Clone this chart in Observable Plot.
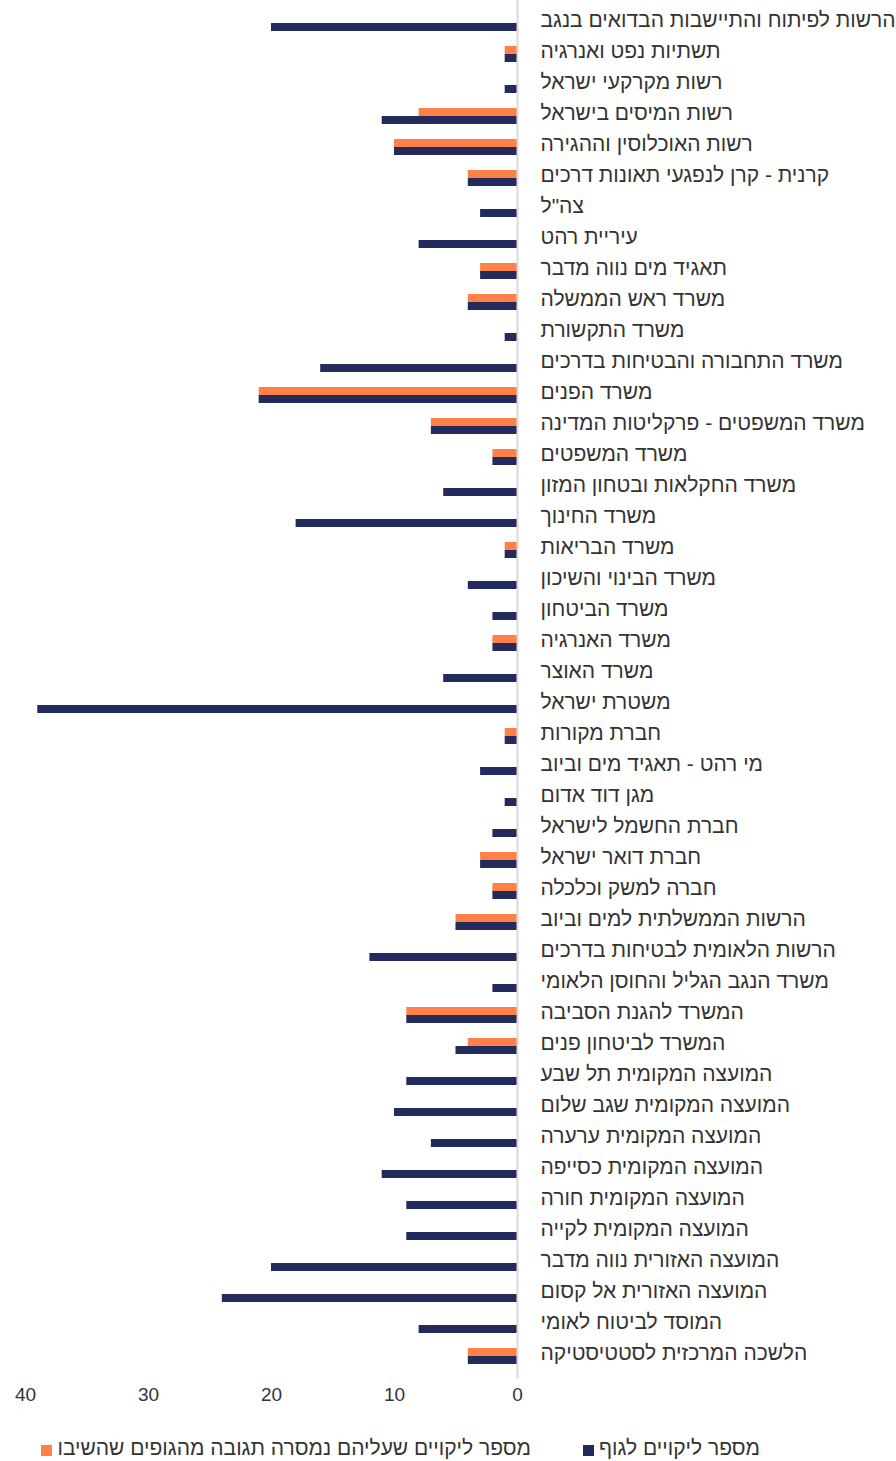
<!DOCTYPE html>
<html lang="he">
<head>
<meta charset="utf-8">
<script src="https://cdn.jsdelivr.net/npm/d3@7"></script>
<script src="https://cdn.jsdelivr.net/npm/@observablehq/plot@0.6"></script>
<style>
  html, body { margin: 0; padding: 0; background: #fff; }
  body { width: 896px; font-family: "Liberation Sans", sans-serif; }
  #chart svg { display: block; }
  .legend { direction: rtl; display: flex; gap: 52px; justify-content: flex-start; padding-right: 136px;
            margin-top: 17px; font-size: 21px; line-height: 22px; color: #333; }
  .legend .item { display: flex; align-items: center; gap: 5px; white-space: nowrap; }
  .legend .sw { width: 11px; height: 11px; display: inline-block; margin-top: 5px; }
</style>
</head>
<body>
<div id="chart"></div>
<div class="legend">
  <div class="item"><span>מספר ליקויים לגוף</span><span class="sw" style="background:#232A5C"></span></div>
  <div class="item"><span>מספר ליקויים שעליהם נמסרה תגובה מהגופים שהשיבו</span><span class="sw" style="background:#FF8149"></span></div>
</div>
<script>
const categories = [
  "הרשות לפיתוח והתיישבות הבדואים בנגב",
  "תשתיות נפט ואנרגיה",
  "רשות מקרקעי ישראל",
  "רשות המיסים בישראל",
  "רשות האוכלוסין וההגירה",
  "קרנית - קרן לנפגעי תאונות דרכים",
  "צה\"ל",
  "עיריית רהט",
  "תאגיד מים נווה מדבר",
  "משרד ראש הממשלה",
  "משרד התקשורת",
  "משרד התחבורה והבטיחות בדרכים",
  "משרד הפנים",
  "משרד המשפטים - פרקליטות המדינה",
  "משרד המשפטים",
  "משרד החקלאות ובטחון המזון",
  "משרד החינוך",
  "משרד הבריאות",
  "משרד הבינוי והשיכון",
  "משרד הביטחון",
  "משרד האנרגיה",
  "משרד האוצר",
  "משטרת ישראל",
  "חברת מקורות",
  "מי רהט - תאגיד מים וביוב",
  "מגן דוד אדום",
  "חברת החשמל לישראל",
  "חברת דואר ישראל",
  "חברה למשק וכלכלה",
  "הרשות הממשלתית למים וביוב",
  "הרשות הלאומית לבטיחות בדרכים",
  "משרד הנגב הגליל והחוסן הלאומי",
  "המשרד להגנת הסביבה",
  "המשרד לביטחון פנים",
  "המועצה המקומית תל שבע",
  "המועצה המקומית שגב שלום",
  "המועצה המקומית ערערה",
  "המועצה המקומית כסייפה",
  "המועצה המקומית חורה",
  "המועצה המקומית לקייה",
  "המועצה האזורית נווה מדבר",
  "המועצה האזורית אל קסום",
  "המוסד לביטוח לאומי",
  "הלשכה המרכזית לסטטיסטיקה"
];
// מספר ליקויים לגוף
const totalFindings = [20,1,1,11,10,4,3,8,3,4,1,16,21,7,2,6,18,1,4,2,2,6,39,1,3,1,2,3,2,5,12,2,9,5,9,10,7,11,9,9,20,24,8,4];
// מספר ליקויים שעליהם נמסרה תגובה
const respondedFindings = [0,1,0,8,10,4,0,0,3,4,0,0,21,7,2,0,0,1,0,0,2,0,0,1,0,0,0,3,2,5,0,0,9,4,0,0,0,0,0,0,0,0,0,4];
const xTicks = [0,10,20,30,40];

const NAVY = "#232A5C", ORANGE = "#FF8149";
const data = categories.map((name, i) => ({name, total: totalFindings[i], responded: respondedFindings[i]}));

const chart = Plot.plot({
  width: 896,
  height: 1420,
  marginLeft: 25,
  marginRight: 379,
  marginTop: 0,
  marginBottom: 41,
  style: {fontFamily: "'Liberation Sans', sans-serif", color: "#333", background: "#fff"},
  x: {domain: [0, 40], reverse: true},
  y: {domain: categories, padding: 0.48},
  marks: [
    Plot.barX(data.filter(d => d.responded > 0), {x: "responded", y: "name", fill: ORANGE, insetBottom: 8}),
    Plot.barX(data, {x: "total", y: "name", fill: NAVY, insetTop: 8}),
    Plot.ruleX([0], {stroke: "#d9d9d9", strokeWidth: 2}),
    Plot.axisY({anchor: "right", tickSize: 0, tickPadding: 23, textAnchor: "start", fontSize: 21, dy: -3, label: null}),
    Plot.axisX({ticks: xTicks, tickSize: 0, tickPadding: 8, fontSize: 19, label: null, tickFormat: d => String(d)})
  ]
});
document.getElementById("chart").appendChild(chart);
</script>
</body>
</html>
